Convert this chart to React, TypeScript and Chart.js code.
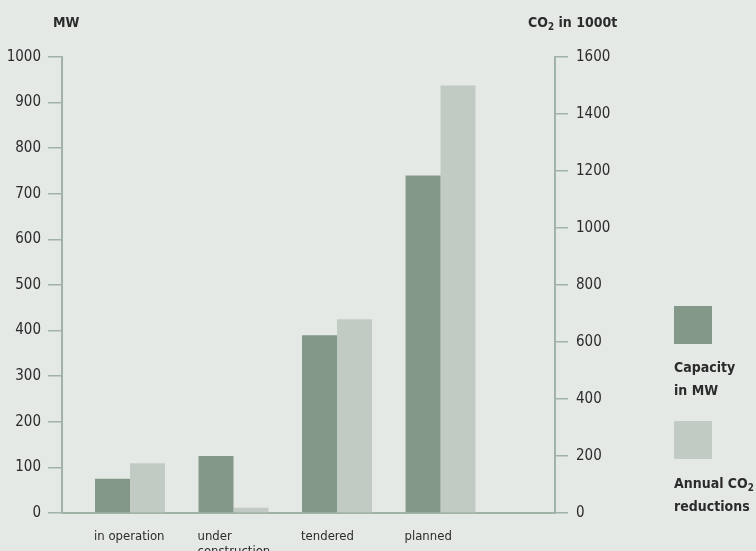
import React, { useEffect, useRef } from "react";
import { Chart, registerables } from "chart.js";

Chart.register(...registerables);

// ---- data ----
const categories: string[][] = [["in operation"], ["under", "construction"], ["tendered"], ["planned"]];
const capacityMW = [75, 125, 390, 740];
const co2Reductions = [175, 18, 680, 1500];
const mwRange = [0, 1000];
const mwStep = 100;
const co2Range = [0, 1600];
const co2Step = 200;

// ---- style ----
const BG = "#e5e9e6";
const DARK = "#839889";
const LIGHT = "#c1cbc4";
const AXIS = "#a1b3a7";
const TEXT = "#2b2b2b";
const FONT = '"Liberation Sans Narrow", "DejaVu Sans Condensed", "Liberation Sans", sans-serif';

export default function App() {
  const ref = useRef<HTMLCanvasElement | null>(null);

  useEffect(() => {
    if (!ref.current) return;
    const chart = new Chart(ref.current, {
      type: "bar",
      data: {
        datasets: [
          {
            label: "Capacity in MW",
            data: capacityMW.map((v, i) => ({ x: i, y: v })),
            backgroundColor: DARK,
            borderWidth: 0,
            yAxisID: "y",
            categoryPercentage: 0.676,
            barPercentage: 1,
          },
          {
            label: "Annual CO2 reductions",
            data: co2Reductions.map((v, i) => ({ x: i, y: v })),
            backgroundColor: LIGHT,
            borderWidth: 0,
            yAxisID: "y2",
            categoryPercentage: 0.676,
            barPercentage: 1,
          },
        ],
      },
      options: {
        animation: false,
        responsive: false,
        layout: { padding: { top: 57, bottom: 0, left: 0, right: 0 } },
        plugins: { legend: { display: false }, tooltip: { enabled: false } },
        scales: {
          x: {
            type: "linear",
            min: -0.657,
            max: 4.106,
            offset: false,
            afterBuildTicks: (s: any) => {
              s.ticks = categories.map((_, i) => ({ value: i }));
            },
            afterFit: (s: any) => {
              s.height = 38;
            },
            grid: { display: false, drawTicks: false, offset: false },
            border: { display: true, color: AXIS, width: 2 },
            ticks: {
              autoSkip: false,
              maxRotation: 0,
              minRotation: 0,
              align: "start",
              labelOffset: -36,
              padding: 16,
              color: TEXT,
              font: { family: FONT, size: 13, lineHeight: 1.15 },
              callback: (v: any) => categories[Number(v)] ?? "",
            },
          },
          y: {
            position: "left",
            min: mwRange[0],
            max: mwRange[1],
            afterFit: (s: any) => {
              s.width = 62;
            },
            grid: { display: true, drawOnChartArea: false, drawTicks: true, tickLength: 14, color: AXIS, lineWidth: 1.5 },
            border: { display: true, color: AXIS, width: 2 },
            ticks: {
              stepSize: mwStep,
              padding: 7,
              color: TEXT,
              font: { family: FONT, size: 15 },
              callback: (v: any) => String(v),
            },
          },
          y2: {
            position: "right",
            min: co2Range[0],
            max: co2Range[1],
            afterFit: (s: any) => {
              s.width = 201;
            },
            grid: { display: true, drawOnChartArea: false, drawTicks: true, tickLength: 13, color: AXIS, lineWidth: 1.5 },
            border: { display: true, color: AXIS, width: 2 },
            ticks: {
              stepSize: co2Step,
              padding: 8,
              color: TEXT,
              font: { family: FONT, size: 15 },
              callback: (v: any) => String(v),
            },
          },
        },
      },
    } as any);
    return () => chart.destroy();
  }, []);

  const bold: React.CSSProperties = {
    position: "absolute",
    fontFamily: FONT,
    fontWeight: "bold",
    color: TEXT,
    whiteSpace: "nowrap",
  };
  const sub: React.CSSProperties = { fontSize: "0.7em", verticalAlign: "-0.3em", lineHeight: 0 };

  return (
    <div style={{ position: "fixed", left: 0, top: 0, width: 756, height: 551, background: BG, overflow: "hidden" }}>
      <canvas ref={ref} width={756} height={551} style={{ position: "absolute", left: 0, top: 0 }} />
      <div style={{ ...bold, left: 53, top: 14, fontSize: 14, lineHeight: "16px" }}>MW</div>
      <div style={{ ...bold, left: 528, top: 14, fontSize: 14, lineHeight: "16px" }}>
        CO<span style={sub}>2</span> in 1000t
      </div>
      <div style={{ position: "absolute", left: 674, top: 306, width: 38, height: 38, background: DARK }} />
      <div style={{ ...bold, left: 674, top: 356, fontSize: 14, lineHeight: "23px" }}>
        Capacity
        <br />
        in MW
      </div>
      <div style={{ position: "absolute", left: 674, top: 421, width: 38, height: 38, background: LIGHT }} />
      <div style={{ ...bold, left: 674, top: 472, fontSize: 14, lineHeight: "23px" }}>
        Annual CO<span style={sub}>2</span>
        <br />
        reductions
      </div>
    </div>
  );
}
